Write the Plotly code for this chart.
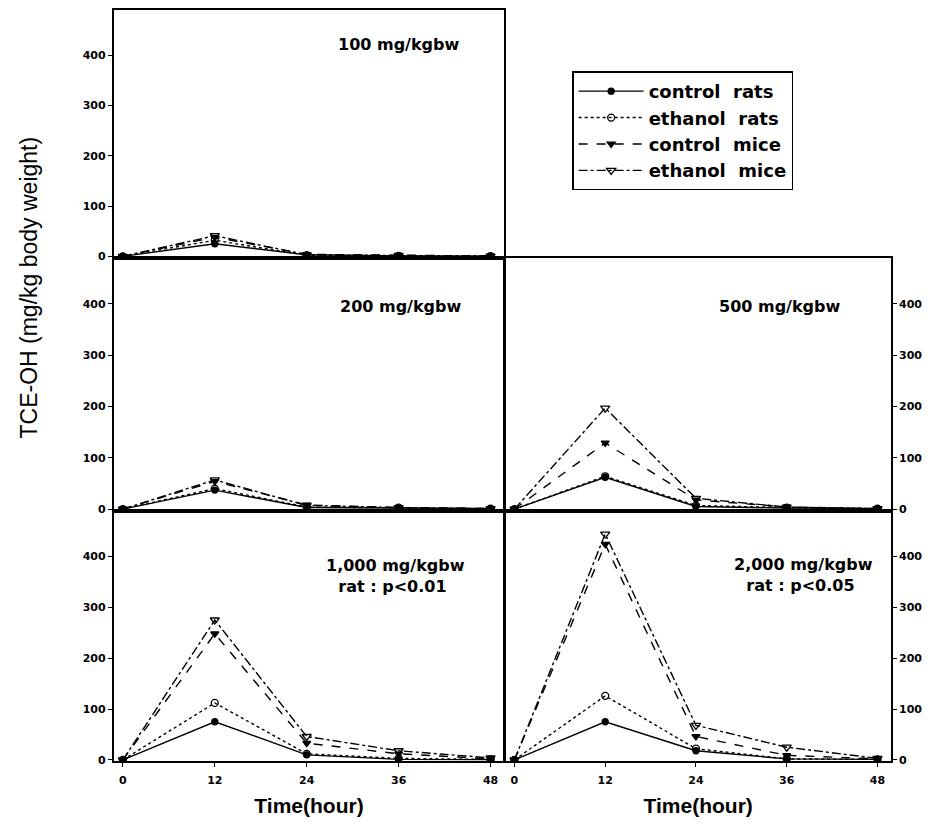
import plotly.graph_objects as go

hours = [0, 12, 24, 36, 48]
series_names = ["control\u00a0 rats", "ethanol\u00a0 rats", "control\u00a0 mice", "ethanol\u00a0 mice"]

# values per dose panel: [control rats, ethanol rats, control mice, ethanol mice]
dose_100 = [[0, 25, 3, 1, 0.5], [0, 32, 2, 1, 0.5], [0, 38, 4, 2, 0.5], [0, 41, 3, 2, 0.5]]
dose_200 = [[0, 37, 3, 2, 1], [0, 40, 4, 3, 1], [0, 54, 8, 3, 1], [0, 57, 7, 3, 1]]
dose_500 = [[0, 62, 5, 2, 1], [0, 64, 7, 3, 1], [0, 129, 18, 4, 1], [0, 197, 21, 4, 1]]
dose_1000 = [[0, 75, 10, 1, 0.5], [0, 112, 12, 3, 1], [0, 248, 33, 12, 2], [0, 275, 46, 18, 4]]
dose_2000 = [[0, 75, 18, 2, 1], [0, 126, 22, 2, 1], [0, 424, 46, 9, 2], [0, 444, 68, 25, 3]]

panel_titles = ["100 mg/kgbw", "200 mg/kgbw", "500 mg/kgbw",
                "1,000 mg/kgbw<br>rat : p<0.01 ", "2,000 mg/kgbw<br>rat : p<0.05 "]
y_ticks = [0, 100, 200, 300, 400]
x_ticks = [0, 12, 24, 36, 48]

styles = [
    dict(dash="solid", symbol="circle", size=6),
    dict(dash="dot", symbol="circle-open", size=7),
    dict(dash="dash", symbol="triangle-down", size=7),
    dict(dash="dashdot", symbol="triangle-down-open", size=8),
]

OFF = 8  # page body margin
W, H = 914, 809  # fits 930x825 window including body margins (no scrollbars)
def clamp(v):
    return min(1.0, max(0.0, v))
def px(x):
    return clamp((x - OFF) / W)
def py(y):
    return clamp(1 - (y - OFF) / H)
def fx(a, b):
    return [px(a), px(b)]
def fy(top, bot):
    return [py(bot), py(top)]

LABEL_FONT = "DejaVu Sans"

# panel: (data, xdomain, ydomain, side, show x labels, annotation pos)
panels = [
    (dose_100, fx(114, 506), fy(8, 258), "left", False, (400, 43)),
    (dose_200, fx(114, 506), fy(258, 513), "left", False, (402, 307)),
    (dose_500, fx(507, 894), fy(258, 513), "right", False, (782, 307)),
    (dose_1000, fx(114, 506), fy(513, 766), "left", True, (397, 579)),
    (dose_2000, fx(507, 894), fy(513, 766), "right", True, (806, 578)),
]

fig = go.Figure()
tickfont = dict(family=LABEL_FONT, size=11, color="black", weight="bold")
annotations = []
for i, (data, xd, yd, side, showx, (ax, ay)) in enumerate(panels):
    n = "" if i == 0 else str(i + 1)
    for k, vals in enumerate(data):
        st = styles[k]
        fig.add_trace(go.Scatter(
            x=hours, y=vals, mode="lines+markers", name=series_names[k],
            showlegend=(i == 0), legendrank=k + 1,
            line=dict(color="black", width=1.4, dash=st["dash"]),
            marker=dict(symbol=st["symbol"], size=st["size"], color="black",
                        line=dict(color="black", width=1.3)),
            xaxis="x" + n, yaxis="y" + n,
        ))
    fig.update_layout(**{
        "xaxis" + n: dict(domain=xd, anchor="y" + n, range=[-1.2, 49.8],
                          tickvals=x_ticks if showx else [],
                          showticklabels=showx, ticks="outside" if showx else "",
                          ticklen=4, tickwidth=1.2, tickcolor="black",
                          ticklabelstandoff=4,
                          tickfont=tickfont, showline=True, linecolor="black",
                          linewidth=1.5, mirror=True, showgrid=False, zeroline=False,
                          title=dict(text="Time(hour)" if showx else "",
                                     font=dict(family="Liberation Sans", size=21,
                                               color="black", weight="bold"),
                                     standoff=14)),
        "yaxis" + n: dict(domain=yd, anchor="x" + n, range=[-3, 490], side=side,
                          tickvals=y_ticks, ticks="outside", ticklen=4, tickwidth=1.2,
                          tickcolor="black", tickfont=tickfont, showline=True,
                          linecolor="black", linewidth=1.5, mirror=True,
                          showgrid=False, zeroline=False),
    })
    annotations.append(dict(
        text=panel_titles[i], x=px(ax), y=py(ay), xref="paper", yref="paper",
        xanchor="center", yanchor="middle",
        showarrow=False, align="center",
        font=dict(family=LABEL_FONT, size=16, color="black", weight="bold"),
    ))

annotations.append(dict(
    text="TCE-OH (mg/kg body weight)", x=px(29), y=py(288), xref="paper",
    yref="paper", showarrow=False, textangle=-90, xanchor="center", yanchor="middle",
    font=dict(family="Liberation Sans", size=23, color="black"),
))

fig.update_layout(
    width=W, height=H, margin=dict(l=0, r=0, t=0, b=0),
    paper_bgcolor="white", plot_bgcolor="white",
    annotations=annotations,
    legend=dict(x=px(574), y=py(70), xanchor="left", yanchor="top",
                bordercolor="black", borderwidth=1.5, bgcolor="white",
                itemwidth=65, tracegroupgap=0,
                font=dict(family=LABEL_FONT, size=18, color="black", weight="bold")),
    showlegend=True,
)

fig.write_html("out.html")
